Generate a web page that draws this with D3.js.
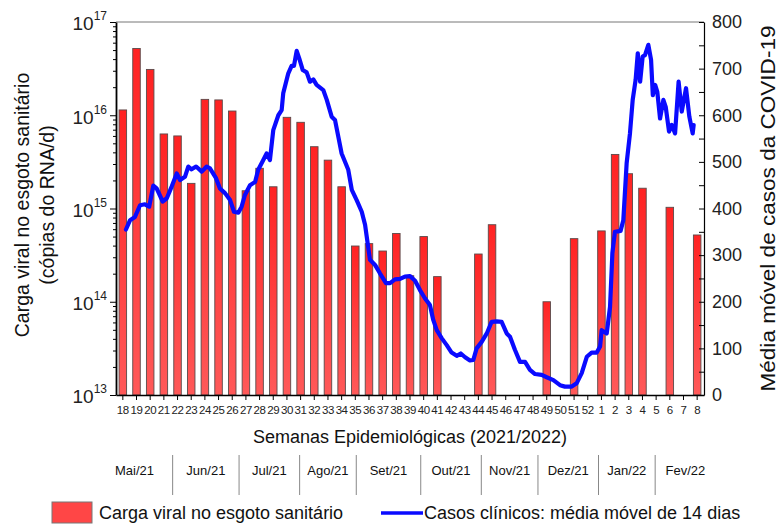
<!DOCTYPE html>
<html>
<head>
<meta charset="utf-8">
<script src="https://cdn.jsdelivr.net/npm/d3@7"></script>
<style>
  body { margin: 0; background: #fff; }
  svg { font-family: Arial, "Liberation Sans", sans-serif; }
</style>
</head>
<body>
<svg></svg>
<script>
// Epidemiological weeks (2021/2022)
const weeks = ["18","19","20","21","22","23","24","25","26","27","28","29","30","31","32","33","34","35",
  "36","37","38","39","40","41","42","43","44","45","46","47","48","49","50","51","52","1","2","3","4","5","6","7","8"];

// viral load in sewage (copies RNA/d), null = no sample
const viralLoad = [1.14e16, 5.2e16, 3.1e16, 6.3e15, 6.0e15, 1.86e15, 1.48e16, 1.46e16, 1.11e16, 1.55e15,
  2.7e15, 1.71e15, 9.5e15, 8.4e15, 4.6e15, 3.3e15, 1.71e15, 3.96e14, 4.2e14, 3.5e14, 5.4e14, 1.9e14,
  5.0e14, 1.86e14, null, null, 3.25e14, 6.7e14, null, null, null, 1.0e14, null, 4.75e14, null, 5.75e14,
  3.8e15, 2.36e15, 1.65e15, null, 1.03e15, null, 5.2e14];

// 14 day moving average of clinical cases (day counted from start of week 18)
const caseDays = [5.1, 7.2, 9.7, 12.3, 14.8, 17, 19.1, 20.8, 23.9, 26, 28.5, 31.1, 32.8, 35.3, 37, 38.7, 41,
  43.9, 46.4, 48.1, 51.2, 53.2, 55.8, 58.4, 60.4, 62.6, 64.3, 66, 68.6, 71.2, 72.8, 75.4, 77.1, 78.8, 80.5,
  83.1, 84.8, 85.6, 88.2, 89.9, 91.1, 92.5, 93.8, 95.6, 97.6, 99.3, 101, 102.7, 106.1, 107.9, 110.4, 112.1,
  113.8, 115.5, 118.9, 120.7, 123.2, 125.8, 127.5, 130, 132.6, 135.1, 138.2, 140.3, 142.8, 145.4, 147.9,
  150.5, 153.1, 155.6, 158.2, 160.7, 162.4, 164.2, 166.7, 169.3, 171.8, 174.4, 176.5, 178.7, 181.2, 182.9,
  184.6, 187.2, 189.8, 192.3, 194.9, 197.4, 200, 201.7, 204.2, 206.8, 209.4, 211.9, 214.5, 217.9, 220.5,
  223.9, 227.3, 229.8, 233.3, 235.8, 238.4, 241, 243.5, 246.1, 247.8, 248.6, 251.2, 252.9, 254.1, 255.4,
  258.3, 259.7, 261.4, 263.1, 264.5, 266, 267.1, 268.3, 269.6, 270.8, 272.5, 273.9, 274.8, 276, 277.1,
  278.5, 280.2, 281.4, 283.1, 284.5, 286.2, 288, 289.6, 291.8, 293.5, 295.2, 295.7];
const caseValues = [355, 375, 382, 407, 409, 404, 449, 443, 415, 422, 447, 475, 461, 468, 490, 484, 490,
  479, 490, 486, 465, 443, 433, 418, 393, 391, 404, 429, 450, 457, 483, 504, 518, 504, 568,
  600, 611, 647, 690, 706, 706, 738, 722, 697, 692, 672, 677, 665, 654, 633, 597, 590,
  554, 518, 483, 440, 418, 393, 365, 290, 279, 261, 240, 240, 248, 249, 254,
  255, 245, 225, 207, 193, 161, 139, 122, 107, 91, 84, 89, 81, 74, 75,
  100, 114, 132, 157, 158, 157, 132, 125, 97, 71, 71, 54, 45, 43, 38,
  32, 21, 18, 18, 25, 47, 82, 91, 91, 104, 139, 132, 189, 304, 350,
  352, 375, 497, 561, 633, 676, 733, 672, 726, 729, 751, 719, 643, 665, 650,
  593, 633, 618, 565, 579, 561, 672, 608, 658, 597, 561, 579];

// Month table under the axis (boundaries in days, outer ones not drawn)
const months = ["Mai/21","Jun/21","Jul/21","Ago/21","Set/21","Out/21","Nov/21","Dez/21","Jan/22","Fev/22"];
const monthBreaks = [-10, 29, 63, 94, 123, 156, 187, 216, 247, 276, 307];

const leftTicks = [1e13, 1e14, 1e15, 1e16, 1e17];
const rightTicks = [0, 100, 200, 300, 400, 500, 600, 700, 800];

// Constants
const width = 778;
const height = 526;
const plotLeft = 116, plotRight = 704, plotTop = 22, plotBottom = 395;
const totalDays = weeks.length * 7;

const svg = d3.select("svg")
    .attr("width", width)
    .attr("height", height);

// Scales
const xScale = d3.scaleBand()
    .domain(weeks)
    .range([plotLeft, plotRight])
    .paddingInner(0.45)
    .paddingOuter(0.225);

const dayScale = d3.scaleLinear()
    .domain([0, totalDays])
    .range([plotLeft, plotRight]);

const yScale = d3.scaleLog()
    .domain([1e13, 1e17])
    .range([plotBottom, plotTop]);

const yRight = d3.scaleLinear()
    .domain([0, 800])
    .range([plotBottom, plotTop]);

// bar gradient
const grad = svg.append("defs").append("linearGradient")
    .attr("id", "barFill")
    .attr("x1", 0).attr("y1", 0).attr("x2", 0).attr("y2", 1);
grad.append("stop").attr("offset", "0%").attr("stop-color", "#ff2222");
grad.append("stop").attr("offset", "100%").attr("stop-color", "#ff5959");

// Bars
const barData = weeks.map((w, i) => ({ week: w, value: viralLoad[i] })).filter(d => d.value != null);

svg.append("g")
  .selectAll("rect")
  .data(barData)
  .enter()
    .append("rect")
    .attr("x", d => xScale(d.week))
    .attr("y", d => yScale(d.value))
    .attr("width", xScale.bandwidth())
    .attr("height", d => yScale(1e13) - yScale(d.value))
    .attr("fill", "url(#barFill)")
    .attr("stroke", "#5a4a4a")
    .attr("stroke-width", 0.9);

// Line
const line = d3.line()
    .x(d => dayScale(d[0]))
    .y(d => yRight(d[1]))
    .curve(d3.curveLinear);

svg.append("path")
    .datum(caseDays.map((d, i) => [d, caseValues[i]]))
    .attr("d", line)
    .attr("fill", "none")
    .attr("stroke", "#0a0aff")
    .attr("stroke-width", 4.2)
    .attr("stroke-linejoin", "round")
    .attr("stroke-linecap", "round");

// top frame
svg.append("line")
    .attr("x1", plotLeft).attr("x2", plotRight)
    .attr("y1", plotTop).attr("y2", plotTop)
    .attr("stroke", "#777")
    .attr("stroke-width", 1);

// Axes
const xAxis = d3.axisBottom(xScale)
    .tickSize(5)
    .tickSizeOuter(0);

const xg = svg.append("g")
    .attr("transform", `translate(0,${plotBottom})`)
    .call(xAxis);
xg.select(".domain").attr("stroke-width", 1.5);
xg.selectAll("text")
    .attr("font-size", 11.5)
    .attr("letter-spacing", -0.4)
    .attr("dy", "0.95em")
    .attr("fill", "#222");

// left log axis: minor ticks
const minor = [];
[1e13, 1e14, 1e15, 1e16].forEach(p => d3.range(2, 10).forEach(k => minor.push(p * k)));

svg.append("g")
    .attr("transform", `translate(${plotLeft},0)`)
    .call(d3.axisLeft(yScale).tickValues(minor).tickSize(3).tickFormat(""))
    .call(g => g.select(".domain").remove());

const yg = svg.append("g")
    .attr("transform", `translate(${plotLeft},0)`)
    .call(d3.axisLeft(yScale).tickValues(leftTicks).tickSize(6).tickSizeOuter(0).tickFormat(""));
yg.select(".domain").attr("stroke-width", 1.8);

yg.selectAll(".tick").append("text")
    .attr("x", -9)
    .attr("dy", "0.42em")
    .attr("text-anchor", "end")
    .attr("fill", "#222")
    .attr("font-size", 19)
    .each(function(d) {
      const t = d3.select(this);
      t.append("tspan").text("10");
      t.append("tspan")
        .attr("font-size", 12)
        .attr("dy", "-0.85em")
        .text(Math.round(Math.log10(d)));
    });

// right axis
const rightMinor = [50, 150, 250, 350, 450, 550, 650, 750];
svg.append("g")
    .attr("transform", `translate(${plotRight},0)`)
    .call(d3.axisLeft(yRight).tickValues(rightMinor).tickSize(5).tickFormat(""))
    .call(g => g.select(".domain").remove());

const rg = svg.append("g")
    .attr("transform", `translate(${plotRight},0)`)
    .call(d3.axisRight(yRight).tickValues(rightTicks).tickSize(0).tickSizeOuter(0).tickPadding(8));
rg.select(".domain").attr("stroke-width", 1.2);
rg.selectAll("text").attr("font-size", 18).attr("fill", "#222");
rg.selectAll(".tick").append("line")
    .attr("x2", -5)
    .attr("stroke", "currentColor");

// Axis titles
svg.append("text")
    .attr("transform", `translate(29,205) rotate(-90)`)
    .attr("text-anchor", "middle")
    .attr("font-size", 19.5)
    .attr("fill", "#111")
    .text("Carga viral no esgoto sanitário");

svg.append("text")
    .attr("transform", `translate(54,205) rotate(-90)`)
    .attr("text-anchor", "middle")
    .attr("font-size", 19.5)
    .attr("fill", "#111")
    .text("(cópias do RNA/d)");

svg.append("text")
    .attr("transform", `translate(775,${(plotTop + plotBottom) / 2}) rotate(-90)`)
    .attr("text-anchor", "middle")
    .attr("font-size", 20.5)
    .attr("textLength", 366)
    .attr("lengthAdjust", "spacingAndGlyphs")
    .attr("fill", "#111")
    .text("Média móvel de casos da COVID-19");

svg.append("text")
    .attr("x", (plotLeft + plotRight) / 2)
    .attr("y", 443)
    .attr("text-anchor", "middle")
    .attr("font-size", 18)
    .attr("fill", "#111")
    .text("Semanas Epidemiológicas (2021/2022)");

// Month table
svg.append("g")
  .selectAll("line")
  .data(monthBreaks.slice(1, -1))
  .enter()
    .append("line")
    .attr("x1", d => dayScale(d)).attr("x2", d => dayScale(d))
    .attr("y1", 455).attr("y2", 495)
    .attr("stroke", "#888")
    .attr("stroke-width", 1);

svg.append("g")
  .selectAll("text")
  .data(months)
  .enter()
    .append("text")
    .attr("x", (d, i) => dayScale((monthBreaks[i] + monthBreaks[i + 1]) / 2))
    .attr("y", 475)
    .attr("text-anchor", "middle")
    .attr("font-size", 13)
    .attr("fill", "#111")
    .text(d => d);

// Legend
svg.append("rect")
    .attr("x", 52).attr("y", 502)
    .attr("width", 40).attr("height", 21)
    .attr("fill", "#ff4646")
    .attr("stroke", "#777");

svg.append("text")
    .attr("x", 99).attr("y", 519)
    .attr("font-size", 18)
    .attr("fill", "#111")
    .text("Carga viral no esgoto sanitário");

svg.append("line")
    .attr("x1", 381).attr("x2", 423)
    .attr("y1", 513).attr("y2", 513)
    .attr("stroke", "#0a0aff")
    .attr("stroke-width", 3.5);

svg.append("text")
    .attr("x", 424).attr("y", 519)
    .attr("font-size", 18)
    .attr("fill", "#111")
    .text("Casos clínicos: média móvel de 14 dias");
</script>
</body>
</html>
